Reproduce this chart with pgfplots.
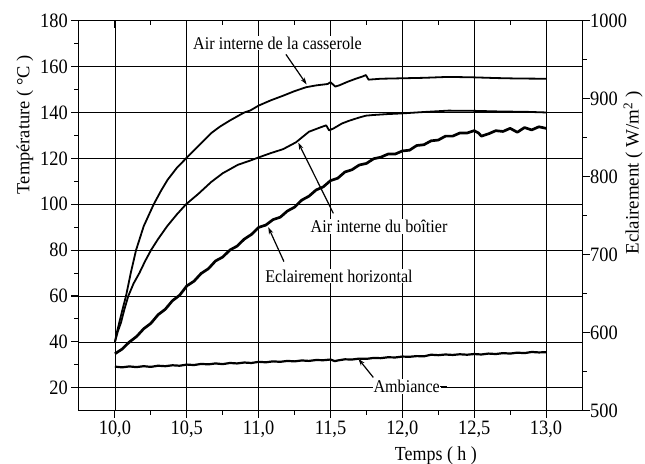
\documentclass[border=0pt]{standalone}
\usepackage{fontspec}
\setmainfont{Liberation Serif}[FakeStretch=0.9]
\newfontfamily\rotfont{Liberation Serif}
\usepackage{pgfplots}
\pgfplotsset{compat=1.18}
\usetikzlibrary{arrows.meta}
\newcommand\tickfont{\fontsize{20.5}{20.5}\selectfont}
\newcommand\annfont{\fontsize{18}{18}\selectfont}
\tikzset{
  curve/.style={black, line width=1.8bp, line join=round},
  arr/.style={black, line width=1.2bp, -{Stealth[length=7bp,width=4.5bp]}},
  ann/.style={fill=white, inner sep=1bp, font=\annfont},
}
\begin{document}
\begin{tikzpicture}
\useasboundingbox (0,0) rectangle (645bp,464bp);
\pgfplotsset{
  common/.style={
    at={(78.3bp,53.3bp)}, anchor=south west,
    width=504.4bp, height=390bp, scale only axis,
    xmin=9.745, xmax=13.255,
    /pgf/number format/assume math mode=true,
    /pgf/number format/1000 sep={},
    tick style={black, line width=1.1bp},
    major tick length=7bp, minor tick length=4bp,
    axis line style={line width=1.5bp},
    tick label style={font=\tickfont},
    xtick={10,10.5,11,11.5,12,12.5,13},
    minor xtick={10.25,10.75,11.25,11.75,12.25,12.75},
  },
}
% main axis: temperature
\begin{axis}[common,
  ymin=10, ymax=180,
  axis x line*=bottom, axis y line*=left,
  tick align=outside,
  ytick={20,40,...,180}, minor ytick={30,50,...,170},
  xticklabels={{10,0},{10,5},{11,0},{11,5},{12,0},{12,5},{13,0}},
  grid=major, grid style={black, line width=0.7bp},
  xlabel={Temps ( h )},
  xlabel style={at={(ticklabel cs:0.709)}, anchor=north, font=\fontsize{20}{20}\selectfont, inner sep=0pt, yshift=-5bp},
  ylabel={\rotfont Température ( \textdegree C )},
  ylabel style={at={(ticklabel cs:0.733)}, font=\fontsize{18.5}{18.5}\selectfont},
]
% Air interne de la casserole
\addplot[curve, no markers] coordinates {
(10.00,40) (10.015,44.5) (10.03,48.4) (10.05,53.5) (10.077,60) (10.11,70) (10.147,80) (10.20,90.4)
(10.27,100) (10.32,105.8) (10.367,110.7) (10.43,115.8) (10.495,120) (10.577,125.2) (10.67,131)
(10.73,133.8) (10.80,136.5) (10.90,140) (10.94,140.8) (11.00,143) (11.085,145.3) (11.17,147.3)
(11.25,149.3) (11.33,151) (11.40,151.8) (11.48,152.4) (11.50,153.2) (11.533,151.3) (11.56,151.8)
(11.62,153.4) (11.68,154.8) (11.72,155.6) (11.746,156.3) (11.765,154.3) (11.85,154.7) (12.00,154.9)
(12.15,155.1) (12.32,155.5) (12.50,155.3) (12.65,155.0) (12.80,154.8) (13.00,154.7)
};
% Air interne du boitier
\addplot[curve, no markers] coordinates {
(10.00,40) (10.02,44.5) (10.042,48.4) (10.065,54) (10.093,60) (10.13,65.5) (10.17,70) (10.21,75.2)
(10.251,80) (10.30,84.8) (10.363,90.4) (10.43,95.5) (10.495,100) (10.58,104.5) (10.67,109.7)
(10.75,113.5) (10.856,117.2) (10.94,119) (11.00,120.4) (11.085,122.3) (11.17,124) (11.26,127)
(11.35,131.6) (11.43,133.5) (11.47,134.4) (11.49,132.2) (11.52,133.0) (11.58,135.2) (11.63,136.4)
(11.70,137.8) (11.746,138.6) (11.80,138.9) (11.90,139.3) (12.00,139.6) (12.15,140.2) (12.32,140.8)
(12.50,140.7) (12.70,140.4) (12.85,140.3) (13.00,140.0)
};
% Ambiance
\addplot[curve, no markers, line width=2.2bp] coordinates {
(10.00,29.2) (10.05,28.9) (10.10,29.3) (10.15,29.0) (10.20,29.4) (10.25,29.1) (10.30,29.6) (10.35,29.4)
(10.40,29.8) (10.45,29.6) (10.50,30.1) (10.55,29.9) (10.60,30.4) (10.65,30.2) (10.70,30.6) (10.75,30.3)
(10.80,30.8) (10.85,30.6) (10.90,31.0) (10.95,30.8) (11.00,31.3) (11.05,31.1) (11.10,31.5) (11.15,31.3)
(11.20,31.7) (11.25,31.5) (11.30,31.9) (11.35,31.7) (11.40,32.1) (11.45,32.0) (11.50,32.3) (11.53,31.6)
(11.55,31.9) (11.60,32.4) (11.65,32.3) (11.70,32.7) (11.75,32.6) (11.80,33.0) (11.85,32.9) (11.90,33.3)
(11.95,33.2) (12.00,33.6) (12.05,33.5) (12.10,33.8) (12.15,33.7) (12.20,34.4) (12.25,34.2) (12.30,34.5)
(12.35,34.3) (12.40,34.6) (12.45,34.4) (12.50,34.7) (12.55,34.5) (12.60,34.9) (12.65,34.7) (12.70,35.1)
(12.75,34.9) (12.80,35.3) (12.85,35.1) (12.90,35.6) (12.95,35.4) (13.00,35.5)
};
% annotations
\node[ann] at (axis cs:11.131,170.2) {Air interne de la casserole};
\draw[arr] (axis cs:11.19,165.3) -- (axis cs:11.334,152.2);
\node[ann] at (axis cs:11.838,90.4) {Air interne du boîtier};
\draw[arr] (axis cs:11.52,96.0) -- (axis cs:11.276,126.8);
\node[ann] at (axis cs:11.559,68.7) {Eclairement horizontal};
\draw[arr] (axis cs:11.176,75.0) -- (axis cs:11.067,90.0);
\node[ann] at (axis cs:12.03,20.6) {Ambiance};
\draw[black, line width=1.2bp] (axis cs:12.262,20.6) -- (axis cs:12.31,20.6);
\draw[arr] (axis cs:11.798,24.5) -- (axis cs:11.694,32.6);
\end{axis}
% right axis: irradiance
\begin{axis}[common,
  ymin=500, ymax=1000,
  axis y line*=right, axis x line=none,
  tick align=outside,
  ytick={500,600,...,1000}, minor ytick={550,650,...,950},
  yticklabel style={xshift=-3bp},
  ylabel={\rotfont Eclairement ( W/m\textsuperscript{2} )},
  ylabel style={at={(axis description cs:1.1001,0.61)}, anchor=center, font=\fontsize{19}{19}\selectfont, inner sep=0bp},
]
\addplot[curve, no markers, line width=2.7bp] coordinates {
(10.00,573) (10.05,579) (10.10,588) (10.15,595) (10.20,605) (10.25,612) (10.30,623) (10.35,630)
(10.40,641) (10.45,648) (10.50,660) (10.55,666) (10.60,676) (10.65,682) (10.70,692) (10.75,697)
(10.80,706) (10.85,711) (10.90,720) (10.95,726) (11.00,735) (11.05,738) (11.10,745) (11.15,748)
(11.20,756) (11.25,761) (11.30,770) (11.35,775) (11.40,783) (11.45,787) (11.50,795) (11.55,798)
(11.60,806) (11.65,809) (11.70,815) (11.75,817) (11.80,823) (11.85,825) (11.90,829) (11.95,829)
(12.00,833) (12.05,834) (12.10,840) (12.15,841) (12.20,846) (12.25,847) (12.30,852) (12.35,852)
(12.40,856) (12.45,856) (12.50,859) (12.53,856) (12.55,852) (12.60,855) (12.65,859) (12.70,858)
(12.75,862) (12.80,857) (12.85,863) (12.90,860) (12.95,864) (13.00,862)
};
\end{axis}
% top axis ticks
\begin{axis}[common,
  ymin=10, ymax=180,
  axis x line*=top, axis y line=none,
  tick align=inside,
  xticklabels={},
]
\end{axis}
\end{tikzpicture}
\end{document}
